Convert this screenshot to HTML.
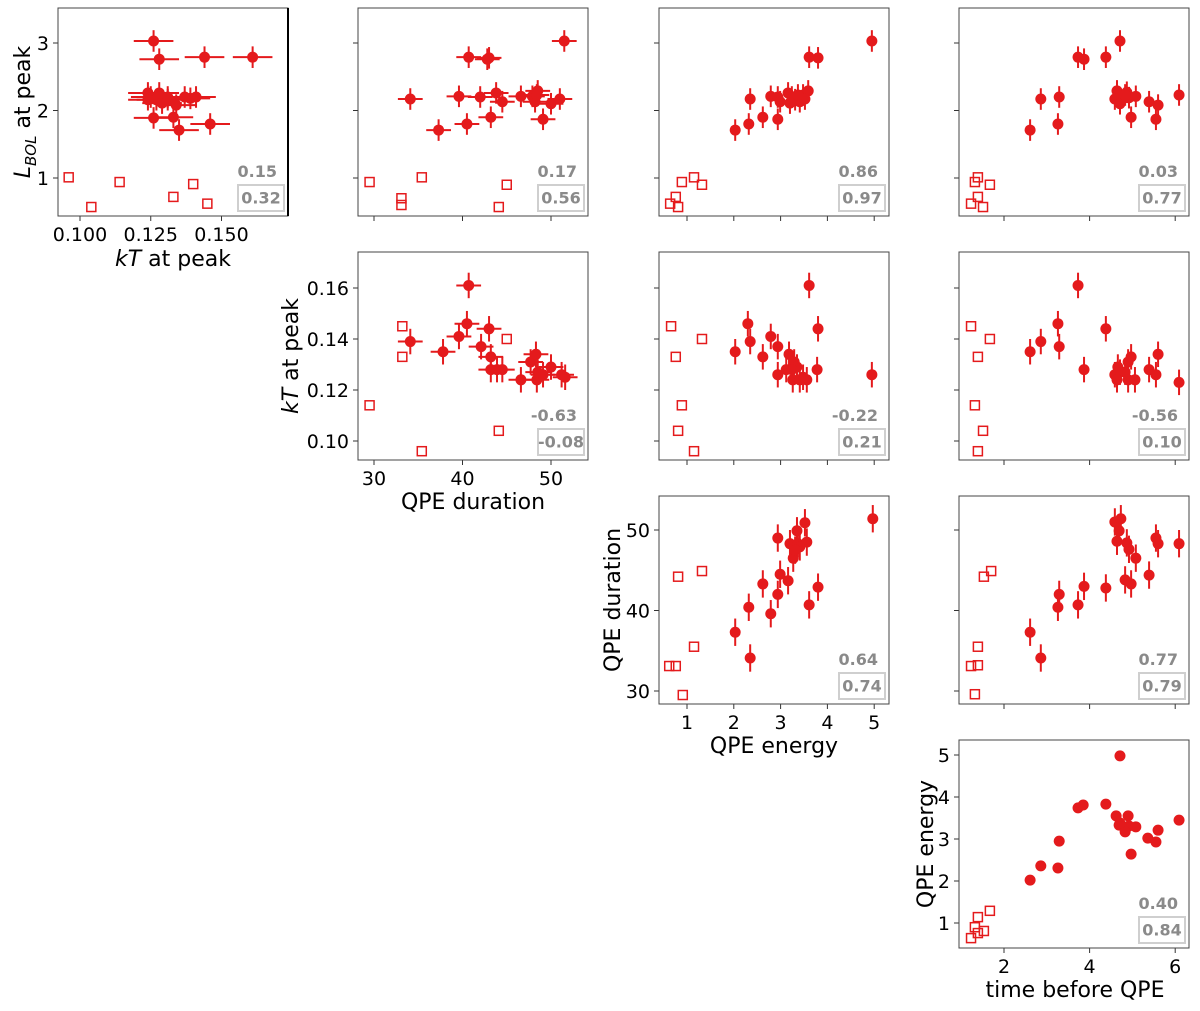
<!DOCTYPE html>
<html><head><meta charset="utf-8"><style>
html,body{margin:0;padding:0;background:#fff;}
svg{display:block;font-family:"DejaVu Sans","Liberation Sans",sans-serif;}
</style></head><body>
<svg id="fig" width="1200" height="1011" viewBox="0 0 1200 1011" xmlns="http://www.w3.org/2000/svg">
<g fill="#000" font-size="22">
<text transform="translate(30,112) rotate(-90)" text-anchor="middle"><tspan font-style="italic">L</tspan><tspan font-style="italic" font-size="15" dy="6">BOL</tspan><tspan dy="-6"> at peak</tspan></text>
<text x="173" y="266" text-anchor="middle"><tspan font-style="italic">kT</tspan> at peak</text>
<text transform="translate(298,356) rotate(-90)" text-anchor="middle"><tspan font-style="italic">kT</tspan> at peak</text>
<text x="473" y="509" text-anchor="middle">QPE duration</text>
<text transform="translate(620,600) rotate(-90)" text-anchor="middle">QPE duration</text>
<text x="774" y="753" text-anchor="middle">QPE energy</text>
<text transform="translate(933,844) rotate(-90)" text-anchor="middle">QPE energy</text>
<text x="1075" y="997" text-anchor="middle">time before QPE</text>
</g>
</svg>
<script>
const r1c1_x=[0.126,0.128,0.144,0.161,0.124,0.125,0.127,0.128,0.129,0.131,0.134,0.137,0.139,0.141,0.126,0.133,0.135,0.146,0.124,0.131];
const r1c1_y=[3.03,2.76,2.79,2.79,2.26,2.20,2.16,2.26,2.11,2.16,2.08,2.20,2.18,2.20,1.89,1.90,1.71,1.80,2.16,2.20];
const r1c1_ox=[0.096,0.104,0.114,0.133,0.140,0.145];
const r1c1_oy=[1.01,0.57,0.94,0.72,0.91,0.62];

const r1c2_x=[51.5,40.7,43.0,42.8,34.1,39.6,42.0,43.8,44.5,46.6,47.9,48.5,48.2,48.4,50.0,51.0,49.1,43.2,40.5,37.3];
const r1c2_y=[3.03,2.79,2.78,2.76,2.17,2.21,2.20,2.26,2.13,2.21,2.21,2.29,2.13,2.23,2.10,2.17,1.87,1.90,1.80,1.71];
const r1c2_ox=[29.5,33.1,33.1,35.4,45.0,44.1];
const r1c2_oy=[0.94,0.70,0.60,1.01,0.90,0.57];

const r1c3_x=[4.95,3.61,3.80,2.35,2.79,2.94,3.16,2.99,3.20,3.31,3.41,3.48,3.59,3.52,3.24,2.94,2.62,2.32,2.03,3.37];
const r1c3_y=[3.03,2.79,2.78,2.17,2.21,2.20,2.26,2.13,2.11,2.16,2.13,2.23,2.29,2.17,2.20,1.87,1.90,1.80,1.71,2.23];
const r1c3_ox=[0.89,1.15,1.32,0.76,0.64,0.81];
const r1c3_oy=[0.94,1.01,0.90,0.72,0.62,0.57];

const r1c4_x=[4.71,3.73,3.87,4.38,2.86,3.29,3.26,2.61,4.64,4.59,4.71,4.87,4.92,5.08,4.97,5.39,5.60,5.55,6.09,4.83];
const r1c4_y=[3.03,2.79,2.76,2.79,2.17,2.20,1.80,1.71,2.29,2.17,2.10,2.27,2.19,2.21,1.90,2.13,2.08,1.87,2.23,2.23];
const r1c4_ox=[1.32,1.39,1.67,1.39,1.23,1.51];
const r1c4_oy=[0.94,1.01,0.90,0.72,0.62,0.57];

const r2c2_x=[40.7,40.5,39.6,43.0,34.1,37.8,42.1,43.2,43.2,43.9,44.5,46.6,47.7,48.3,48.4,49.1,50.0,51.2,51.6,48.5];
const r2c2_y=[0.161,0.146,0.141,0.144,0.139,0.135,0.137,0.133,0.128,0.128,0.128,0.124,0.131,0.134,0.124,0.126,0.129,0.126,0.125,0.127];
const r2c2_ox=[29.5,33.2,33.2,35.4,45.0,44.1];
const r2c2_oy=[0.114,0.145,0.133,0.096,0.140,0.104];

const r2c3_x=[3.61,2.30,3.80,2.79,2.35,2.94,2.03,2.62,3.18,3.29,3.35,3.78,2.94,3.12,3.26,3.41,3.56,3.48,4.95,3.24];
const r2c3_y=[0.161,0.146,0.144,0.141,0.139,0.137,0.135,0.133,0.134,0.131,0.129,0.128,0.126,0.128,0.124,0.124,0.124,0.125,0.126,0.128];
const r2c3_ox=[0.66,1.32,0.76,0.89,0.81,1.15];
const r2c3_oy=[0.145,0.140,0.133,0.114,0.104,0.096];

const r2c4_x=[3.73,3.26,4.38,2.86,3.29,2.61,5.60,4.97,4.90,3.87,4.66,5.39,5.55,4.59,4.71,4.83,4.90,5.06,6.09,4.64];
const r2c4_y=[0.161,0.146,0.144,0.139,0.137,0.135,0.134,0.133,0.131,0.128,0.129,0.128,0.126,0.126,0.127,0.127,0.124,0.124,0.123,0.124];
const r2c4_ox=[1.23,1.67,1.39,1.32,1.51,1.39];
const r2c4_oy=[0.145,0.140,0.133,0.114,0.104,0.096];

const r3c3_x=[4.97,3.52,3.35,2.94,3.20,3.37,3.56,3.27,2.99,3.16,2.62,3.80,2.94,3.61,2.32,2.79,2.03,2.35,3.41,3.31];
const r3c3_y=[51.4,50.9,49.9,49.0,48.3,48.3,48.5,46.5,44.5,43.7,43.3,42.9,42.0,40.7,40.4,39.6,37.3,34.1,47.9,47.5];
const r3c3_ox=[0.81,1.32,1.15,0.62,0.76,0.91];
const r3c3_oy=[44.2,44.9,35.5,33.1,33.1,29.5];

const r3c4_x=[4.59,4.73,4.69,4.64,4.87,4.92,5.08,5.55,5.60,6.09,5.39,4.83,4.97,4.38,3.87,3.29,3.26,3.73,2.61,2.86];
const r3c4_y=[51.0,51.4,49.9,48.6,48.4,47.6,46.5,49.0,48.3,48.3,44.4,43.8,43.3,42.8,43.0,42.0,40.4,40.7,37.3,34.1];
const r3c4_ox=[1.70,1.53,1.39,1.23,1.39,1.32];
const r3c4_oy=[44.9,44.2,35.5,33.1,33.2,29.6];

const r4c4_x=[4.71,3.73,3.85,4.38,4.62,4.69,4.90,4.92,5.08,4.83,4.97,5.36,5.55,5.60,6.09,3.29,3.26,2.86,2.61,4.71];
const r4c4_y=[4.98,3.74,3.81,3.83,3.55,3.33,3.55,3.31,3.29,3.17,2.64,3.02,2.93,3.21,3.45,2.95,2.31,2.36,2.02,3.38];
const r4c4_ox=[1.23,1.32,1.39,1.39,1.53,1.67];
const r4c4_oy=[0.64,0.90,1.14,0.76,0.81,1.29];

const corrTop=["0.15","0.17","0.86","0.03","-0.63","-0.22","-0.56","0.64","0.77","0.40"];
const corrBox=["0.32","0.56","0.97","0.77","-0.08","0.21","0.10","0.74","0.79","0.84"];
const ticksL=[1,2,3], ticksKTx=[0.100,0.125,0.150], ticksKTy=[0.10,0.12,0.14,0.16];
const ticksD=[30,40,50], ticksE=[1,2,3,4,5], ticksT=[2,4,6];

const colX=[58,358,659,959], rowY=[8,252,496,740], PW=230, PH=208;
function lin(d0,r0,d1,r1){return v=>r0+(v-d0)*(r1-r0)/(d1-d0);}
const xs={kT:lin(0.1,22,0.15,163.5),D:lin(30,16,50,193),E:lin(1,28,5,215.2),t:lin(2,45,6,216.2)};
const ys={L:lin(2,102.5,3,35),kT:lin(0.1,189,0.16,36),D:lin(30,195,50,34),E:lin(1,183,5,15)};
const xticks={kT:[ticksKTx,v=>v.toFixed(3)],D:[ticksD,v=>String(v)],E:[ticksE,v=>String(v)],t:[ticksT,v=>String(v)]};
const yticks={L:[ticksL,v=>String(v)],kT:[ticksKTy,v=>v.toFixed(2)],D:[ticksD,v=>String(v)],E:[ticksE,v=>String(v)]};
const errs={kT:[0.007,0.005],D:[1.4,1.7],E:[0.04,0.08],t:[0,0],L:[0,0.16]};

const panels=[
 {r:0,c:0,xv:'kT',yv:'L',x:r1c1_x,y:r1c1_y,ox:r1c1_ox,oy:r1c1_oy,lx:true,ly:true},
 {r:0,c:1,xv:'D',yv:'L',x:r1c2_x,y:r1c2_y,ox:r1c2_ox,oy:r1c2_oy},
 {r:0,c:2,xv:'E',yv:'L',x:r1c3_x,y:r1c3_y,ox:r1c3_ox,oy:r1c3_oy},
 {r:0,c:3,xv:'t',yv:'L',x:r1c4_x,y:r1c4_y,ox:r1c4_ox,oy:r1c4_oy},
 {r:1,c:1,xv:'D',yv:'kT',x:r2c2_x,y:r2c2_y,ox:r2c2_ox,oy:r2c2_oy,lx:true,ly:true},
 {r:1,c:2,xv:'E',yv:'kT',x:r2c3_x,y:r2c3_y,ox:r2c3_ox,oy:r2c3_oy},
 {r:1,c:3,xv:'t',yv:'kT',x:r2c4_x,y:r2c4_y,ox:r2c4_ox,oy:r2c4_oy},
 {r:2,c:2,xv:'E',yv:'D',x:r3c3_x,y:r3c3_y,ox:r3c3_ox,oy:r3c3_oy,lx:true,ly:true},
 {r:2,c:3,xv:'t',yv:'D',x:r3c4_x,y:r3c4_y,ox:r3c4_ox,oy:r3c4_oy},
 {r:3,c:3,xv:'t',yv:'E',x:r4c4_x,y:r4c4_y,ox:r4c4_ox,oy:r4c4_oy,lx:true,ly:true}
];
const NS="http://www.w3.org/2000/svg", svg=document.getElementById('fig');
const RED="#e41a1c";
function mk(tag,attrs,parent){const e=document.createElementNS(NS,tag);for(const k in attrs)e.setAttribute(k,attrs[k]);parent.appendChild(e);return e;}

panels.forEach((p,i)=>{
  const X0=colX[p.c], Y0=rowY[p.r];
  const g=mk('g',{transform:`translate(${X0},${Y0})`},svg);
  
  
  const fx=xs[p.xv], fy=ys[p.yv];
  const ex=errs[p.xv][0], ey=errs[p.yv][1];
  const [xt,xf]=xticks[p.xv], [yt,yf]=yticks[p.yv];
  xt.forEach(v=>{
    const tk=mk('line',{x1:fx(v),x2:fx(v),y1:PH,y2:PH+5,stroke:'#333','stroke-width':1},g);
    
    
    if(p.lx){const t=mk('text',{x:fx(v),y:PH+25,'text-anchor':'middle','font-size':19,fill:'#000'},g);t.textContent=xf(v);
      
      }
  });
  yt.forEach(v=>{
    const tk=mk('line',{x1:-5,x2:0,y1:fy(v),y2:fy(v),stroke:'#333','stroke-width':1},g);
    
    
    if(p.ly){const t=mk('text',{x:-9,y:fy(v)+7,'text-anchor':'end','font-size':19,fill:'#000'},g);t.textContent=yf(v);
      
      }
  });
  p.ox.forEach((v,j)=>{
    const s=mk('rect',{x:fx(v)-4.5,y:fy(p.oy[j])-4.5,width:9,height:9,fill:'none',stroke:RED,'stroke-width':1.5},g);
    
    
  });
  p.x.forEach((v,j)=>{
    const cx=fx(v), cy=fy(p.y[j]);
    if(ex>0){const l=mk('line',{x1:fx(v-ex),x2:fx(v+ex),y1:cy,y2:cy,stroke:RED,'stroke-width':2},g);
      
      }
    if(ey>0){const l=mk('line',{x1:cx,x2:cx,y1:fy(p.y[j]-ey),y2:fy(p.y[j]+ey),stroke:RED,'stroke-width':2},g);
      
      }
    const c=mk('circle',{cx:cx,cy:cy,r:5.5,fill:RED},g);
    
    
  });
  const f=mk('rect',{x:0,y:0,width:PW,height:PH,fill:'none',stroke:'#444','stroke-width':1},g);
  
  
  if(i===0){const rb=mk('line',{x1:PW,x2:PW,y1:0,y2:PH,stroke:'#000','stroke-width':2},g);
    
    }
  const ct=mk('text',{x:PW-11,y:PH-39,'text-anchor':'end','font-size':16,'font-weight':'bold',fill:'#8a8a8a'},g);
  ct.textContent=corrTop[i];
  
  
  const bx=mk('rect',{x:PW-50,y:PH-31,width:46,height:26,fill:'#fff',stroke:'#cfcfcf','stroke-width':2},g);
  
  
  const bt=mk('text',{x:PW-27,y:PH-12.5,'text-anchor':'middle','font-size':16,'font-weight':'bold',fill:'#8a8a8a'},g);
  bt.textContent=corrBox[i];
  
  
});
</script>
</body></html>
